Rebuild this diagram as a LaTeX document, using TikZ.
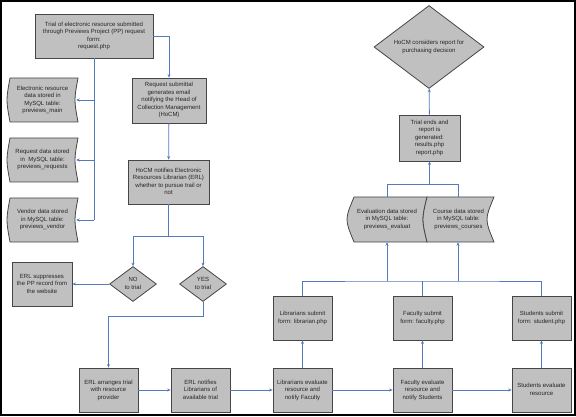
\documentclass[tikz,border=0pt]{standalone}
\usepackage{fontspec}
\setmainfont{Liberation Sans}
\usetikzlibrary{shapes.geometric,arrows.meta}

\definecolor{boxgray}{RGB}{192,192,192}
\definecolor{edgegray}{RGB}{70,70,70}
\definecolor{flowblue}{RGB}{84,122,190}

% centred lines of a node
\newcommand{\boxlines}[1]{\begin{tabular}{@{}c@{}}#1\end{tabular}}

% stored data outline: left x, right x, top y, bottom y, left depth, right depth
\newcommand{\storeshape}[6]{%
  \draw[edgegray, fill=boxgray, line width=0.8pt]
    (#1,#3) -- (#2,#3)
    .. controls ({#2-4*#6/3},{(#3+#4)/2}) .. (#2,#4)
    -- (#1,#4)
    .. controls ({#1-4*#5/3},{(#3+#4)/2}) .. (#1,#3) -- cycle;}

\begin{document}
\begin{tikzpicture}[x=1pt, y=-1pt,
    store/.style={inner sep=1pt, text=black!85, font=\fontsize{6}{7.5}\selectfont},
    box/.style={store, draw=edgegray, fill=boxgray, line width=0.8pt},
    decision/.style={box, diamond, inner sep=0pt},
    link/.style={flowblue, line width=0.8pt},
    arrow/.style={link, -{Stealth[length=3.5pt,width=3pt]}}]
    \useasboundingbox (0,0) rectangle (576,417);

    % Frame
    \draw[line width=1.5pt] (1,1) rectangle (575,415);

    % Request and notification
    \node[box, minimum width=118, minimum height=44] (request) at (94,36)
        {\boxlines{Trial of electronic resource submitted\\through Previews Project (PP) request\\form:\\request.php}};
    \node[box, minimum width=74, minimum height=45] (email) at (169,100.5)
        {\boxlines{Request submittal\\generates email\\notifying the Head of\\Collection Management\\(HoCM)}};
    \node[box, minimum width=81, minimum height=44] (hocm) at (168.5,182)
        {\boxlines{HoCM notifies Electronic\\Resources Librarian (ERL)\\whether to pursue trail or\\not}};

    % Data stored on request
    \storeshape{10}{78}{78}{122}{3}{3}
    \storeshape{10}{78}{138}{182}{3}{3}
    \storeshape{10}{78}{198}{242}{3}{3}
    \node[store, minimum width=71, minimum height=44] (mainstore) at (42.5,100)
        {\boxlines{Electronic resource\\data stored in\\MySQL table:\\previews\_main}};
    \node[store, minimum width=71, minimum height=44] (requeststore) at (42.5,160)
        {\boxlines{Request data stored\\in \ MySQL table:\\previews\_requests}};
    \node[store, minimum width=71, minimum height=44] (vendorstore) at (42.5,220)
        {\boxlines{Vendor data stored\\in MySQL table:\\previews\_vendor}};

    % Decision on the trial
    \node[decision, minimum width=47, minimum height=35] (no) at (133,284) {\boxlines{NO\\to trial}};
    \node[decision, minimum width=47, minimum height=35] (yes) at (203,284) {\boxlines{YES\\to trial}};
    \node[box, minimum width=60, minimum height=44] (suppress) at (42,284)
        {\boxlines{ERL suppresses\\the PP record from\\the website}};

    % Trial steps
    \node[box, minimum width=59, minimum height=44] (arrange) at (108.5,390)
        {\boxlines{ERL arranges trial\\with resource\\provider}};
    \node[box, minimum width=59, minimum height=44] (erlnotify) at (200.5,390)
        {\boxlines{ERL notifies\\Librarians of\\available trial}};
    \node[box, minimum width=59, minimum height=44] (libeval) at (302.5,390)
        {\boxlines{Librarians evaluate\\resource and\\notify Faculty}};
    \node[box, minimum width=59, minimum height=44] (faceval) at (422.5,390)
        {\boxlines{Faculty evaluate\\resource and\\notify Students}};
    \node[box, minimum width=59, minimum height=44] (stueval) at (541.5,390)
        {\boxlines{Students evaluate\\resource}};

    % Forms
    \node[box, minimum width=59, minimum height=44] (libsubmit) at (302.5,318)
        {\boxlines{Librarians submit\\form: librarian.php}};
    \node[box, minimum width=59, minimum height=44] (facsubmit) at (422.5,318)
        {\boxlines{Faculty submit\\form: faculty.php}};
    \node[box, minimum width=59, minimum height=44] (stusubmit) at (541.5,318)
        {\boxlines{Students submit\\form: student.php}};

    % Data stored on evaluation
    \storeshape{354}{427}{197}{242}{7}{4}
    \storeshape{427}{494}{197}{242}{4}{7}
    \node[store, minimum width=76, minimum height=45] (evalstore) at (387,219.5)
        {\boxlines{Evaluation data stored\\in MySQL table:\\previews\_evaluat}};
    \node[store, minimum width=64, minimum height=45] (coursestore) at (458.5,219.5)
        {\boxlines{Course data stored\\in MySQL table:\\previews\_courses}};

    % Report and decision
    \node[box, minimum width=61, minimum height=46] (report) at (429.5,138)
        {\boxlines{Trial ends and\\report is\\generated:\\results.php\\report.php}};
    \node[decision, shape aspect=1.33, minimum width=110, minimum height=83] (purchase) at (429,47)
        {\boxlines{HoCM considers report for\\purchasing decision}};

    % Junction points
    \coordinate (storedown) at (94,220);
    \coordinate (split) at (168.5,236);
    \coordinate (formjoin) at (387,281);
    \coordinate (coursejoin) at (458,281);
    \coordinate (storejoin) at (387,184);
    \coordinate (coursetop) at (458,184);

    % Connectors on the left
    \draw[arrow] (request.east) -| (email.north);
    \draw[arrow] (email) -- (hocm);
    \draw[link] (request.south) -- (storedown);
    \draw[arrow] (request.south |- mainstore) -- ([xshift=-2pt]mainstore.east);
    \draw[arrow] (request.south |- requeststore) -- ([xshift=-2pt]requeststore.east);
    \draw[arrow] (storedown) -- ([xshift=-2pt]vendorstore.east);
    \draw[link] (hocm.south) -- (split);
    \draw[arrow] (split) -| (no.north);
    \draw[arrow] (split) -| (yes.north);
    \draw[arrow] (no.west) -- (suppress.east);
    \draw[arrow] (yes.south) -- ++(0,14) -| (arrange.north);

    % Connectors along the bottom
    \draw[arrow] (arrange) -- (erlnotify);
    \draw[arrow] (erlnotify) -- (libeval);
    \draw[arrow] (libeval) -- (faceval);
    \draw[arrow] (faceval) -- (stueval);
    \draw[arrow] (libeval) -- (libsubmit);
    \draw[arrow] (faceval) -- (facsubmit);
    \draw[arrow] (stueval) -- (stusubmit);

    % Connectors up to the report
    \draw[link] (libsubmit.north) |- (formjoin) -- (coursejoin) -| (stusubmit.north);
    \draw[link] (facsubmit.north) -- (facsubmit.north |- formjoin);
    \draw[arrow] (formjoin) -- (formjoin |- evalstore.south);
    \draw[arrow] (coursejoin) -- (coursejoin |- coursestore.south);
    \draw[link] (storejoin |- evalstore.north) -- (storejoin) -- (coursetop)
        -- (coursetop |- coursestore.north);
    \draw[arrow] (report.south |- storejoin) -- (report.south);
    \draw[arrow] (report) -- (purchase);
\end{tikzpicture}
\end{document}
